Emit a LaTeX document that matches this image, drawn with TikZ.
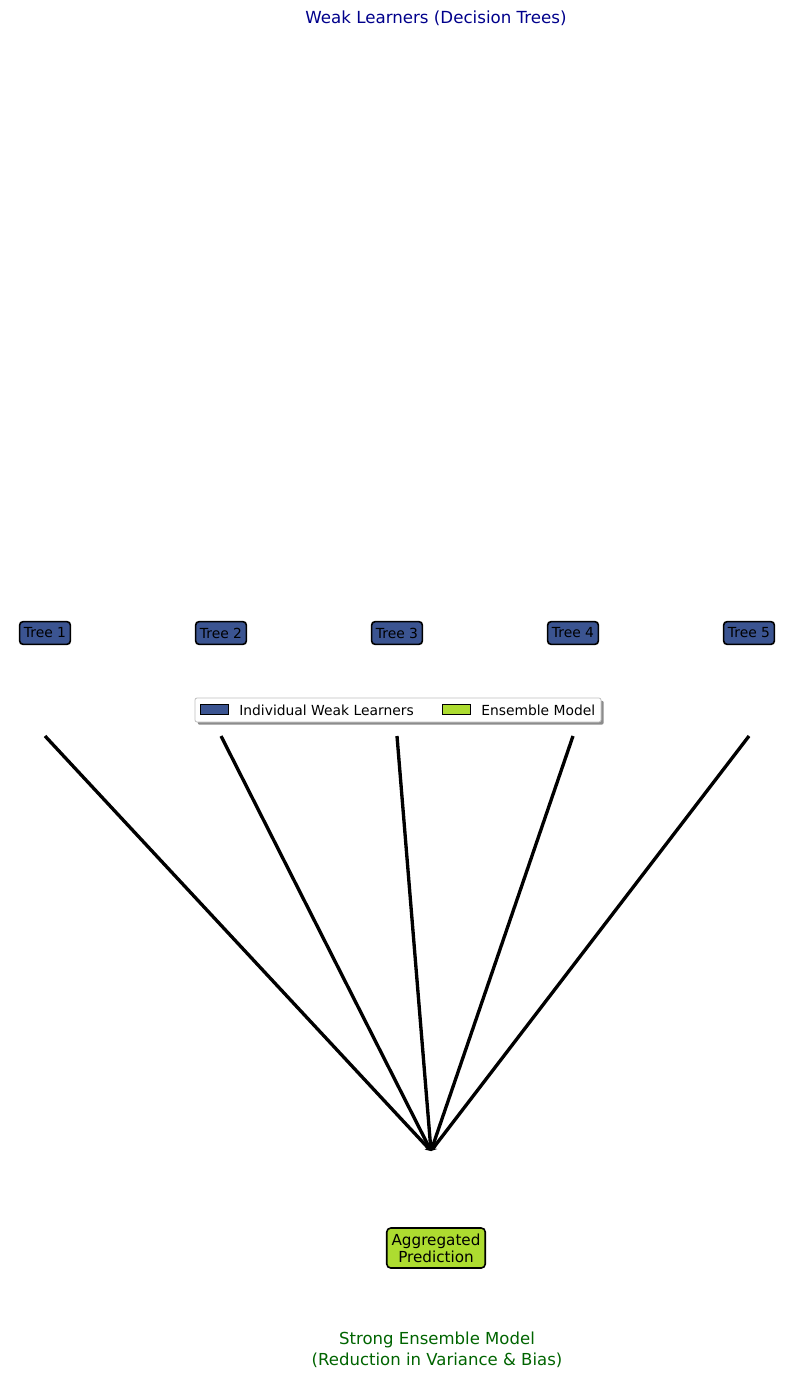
\documentclass[tikz,border=0pt]{standalone}
\usepackage{fontspec}
\setmainfont{DejaVu Sans}
\usetikzlibrary{arrows.meta,shadows}
\definecolor{treeblue}{HTML}{3B5491}
\definecolor{enscol}{HTML}{ADDC30}
\definecolor{titleblue}{HTML}{00008B}
\definecolor{botgreen}{HTML}{006400}
\tikzset{
  treebox/.style={draw=black, line width=1.2pt, fill=treeblue, rounded corners=2.5pt, inner xsep=3.2pt, inner ysep=0pt, minimum height=17pt, font=\fontsize{10.4}{12}\selectfont, text=black},
  ensbox/.style={draw=black, line width=1.2pt, fill=enscol, rounded corners=3pt, inner xsep=3.6pt, inner ysep=0pt, minimum height=30pt, align=center, font=\fontsize{11.4}{12.6}\selectfont},
  conn/.style={line width=2.5pt, -{Stealth[length=4pt,width=5.5pt]}},
  legpatch/.style={draw=black, line width=0.6pt, minimum width=21pt, minimum height=7.5pt, inner sep=0pt},
  legtext/.style={font=\fontsize{10.4}{12}\selectfont, anchor=west, inner sep=0pt},
}
\begin{document}
\begin{tikzpicture}[x=0.75pt,y=-0.75pt]
\useasboundingbox (0,0) rectangle (794,1380);
\node[font=\fontsize{12.5}{14}\selectfont, text=titleblue] (title) at (436,18) {Weak Learners (Decision Trees)};
\foreach \i/\x in {1/45,2/221,3/397,4/573,5/749}{
  \node[treebox] (t\i) at (\x,633) {Tree \i};
  \coordinate (s\i) at (\x,736);
}
% legend
\node[draw=black!25, fill=white, line width=0.6pt, rounded corners=1.5pt, minimum width=304.5pt, minimum height=18pt, inner sep=0pt, drop shadow={shadow xshift=2pt, shadow yshift=-2pt, fill=black!45, opacity=1}] (legend) at (398,710) {};
\node[legpatch, fill=treeblue] (lp1) at (214,709) {};
\node[legtext] (lt1) at (239,710) {Individual Weak Learners};
\node[legpatch, fill=enscol] (lp2) at (456,709) {};
\node[legtext] (lt2) at (481,710) {Ensemble Model};
% aggregation point
\coordinate (agg) at (431,1151);
\foreach \i in {1,...,5}{ \draw[conn] (s\i) -- (agg); }
\node[ensbox] (ens) at (436,1248) {Aggregated\\Prediction};
\node[font=\fontsize{12.4}{15.8}\selectfont, text=botgreen, align=center] (bottom) at (437,1350) {Strong Ensemble Model\\(Reduction in Variance \& Bias)};
\end{tikzpicture}
\end{document}
